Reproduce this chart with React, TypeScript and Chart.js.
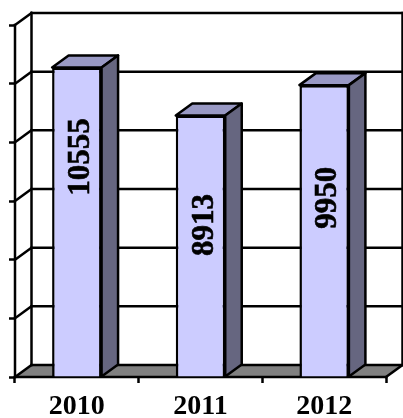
import React, { useEffect, useRef } from "react";
import { Chart, registerables } from "chart.js";

Chart.register(...registerables);

const categories = ["2010", "2011", "2012"];
const values = [10555, 8913, 9950];
const labelShift = [-65, -21, -33];
const AXIS_MAX = 12000;
const AXIS_STEP = 2000;
const DX = 16.5;
const DY = -12;
const FONT = '"Liberation Serif", "Times New Roman", serif';
const LINE = 2.5;

const box3d = {
  id: "box3d",
  beforeDatasetsDraw(chart: any) {
    const { ctx, chartArea: a, scales } = chart;
    ctx.save();
    ctx.lineCap = "square";
    ctx.fillStyle = "#808080";
    ctx.beginPath();
    ctx.moveTo(a.left, a.bottom);
    ctx.lineTo(a.right, a.bottom);
    ctx.lineTo(a.right + DX, a.bottom + DY);
    ctx.lineTo(a.left + DX, a.bottom + DY);
    ctx.closePath();
    ctx.fill();
    ctx.strokeStyle = "#000";
    ctx.lineWidth = LINE;
    const seg = (x1: number, y1: number, x2: number, y2: number) => {
      ctx.beginPath();
      ctx.moveTo(x1, y1);
      ctx.lineTo(x2, y2);
      ctx.stroke();
    };
    scales.y.ticks.forEach((t: any) => {
      const y = scales.y.getPixelForValue(t.value);
      seg(a.left + DX, y + DY, a.right + DX, y + DY);
      seg(a.left, y, a.left + DX, y + DY);
    });
    seg(a.left + DX, a.top + DY, a.left + DX, a.bottom + DY);
    seg(a.right + DX, a.top + DY, a.right + DX, a.bottom + DY);
    seg(a.left, a.top, a.left, a.bottom);
    seg(a.left, a.bottom, a.right, a.bottom);
    seg(a.right, a.bottom, a.right + DX, a.bottom + DY);
    const bars = chart.getDatasetMeta(0).data;
    bars.forEach((b: any) => {
      const half = b.width / 2;
      const l = b.x - half;
      const r = b.x + half;
      const face = (pts: number[][], fill: string) => {
        ctx.beginPath();
        pts.forEach((p, i) => (i ? ctx.lineTo(p[0], p[1]) : ctx.moveTo(p[0], p[1])));
        ctx.closePath();
        ctx.fillStyle = fill;
        ctx.fill();
        ctx.lineJoin = "round";
        ctx.stroke();
      };
      face([[l, b.y], [r, b.y], [r + DX, b.y + DY], [l + DX, b.y + DY]], "#9999C4");
      face([[r, b.y], [r + DX, b.y + DY], [r + DX, b.base + DY], [r, b.base]], "#666680");
    });
    ctx.restore();
  },
  afterDatasetsDraw(chart: any) {
    const { ctx } = chart;
    const bars = chart.getDatasetMeta(0).data;
    ctx.save();
    ctx.fillStyle = "#000";
    ctx.strokeStyle = "#000";
    ctx.lineWidth = 0.6;
    ctx.font = `bold 31px ${FONT}`;
    ctx.textAlign = "center";
    ctx.textBaseline = "middle";
    bars.forEach((b: any, i: number) => {
      ctx.save();
      ctx.translate(b.x + 4, (b.y + b.base) / 2 + labelShift[i]);
      ctx.rotate(-Math.PI / 2);
      ctx.fillText(String(values[i]), 0, 0);
      ctx.strokeText(String(values[i]), 0, 0);
      ctx.restore();
    });
    ctx.restore();
  },
};

export default function App() {
  const ref = useRef<HTMLCanvasElement>(null);
  useEffect(() => {
    const chart = new Chart(ref.current!, {
      type: "bar",
      data: {
        labels: categories,
        datasets: [
          {
            data: values,
            backgroundColor: "#CCCCFF",
            borderColor: "#000",
            borderWidth: 2.5,
            barPercentage: 0.4,
            categoryPercentage: 1,
          },
        ],
      },
      options: {
        animation: false,
        responsive: false,
        layout: { padding: { left: 9, right: 17, top: 25, bottom: 0 } },
        plugins: { legend: { display: false }, tooltip: { enabled: false } },
        scales: {
          x: {
            grid: {
              offset: true,
              drawOnChartArea: false,
              tickLength: 6,
              tickColor: "#000",
              tickWidth: 2.5,
            },
            border: { display: false },
            ticks: {
              color: "#000",
              font: { family: FONT, size: 28, weight: "bold" },
              padding: 7,
              maxRotation: 0,
            },
            afterFit(scale: any) {
              scale.height = 41;
            },
          },
          y: {
            min: 0,
            max: AXIS_MAX,
            grid: {
              drawOnChartArea: false,
              tickLength: 6,
              tickColor: "#000",
              tickWidth: 2.5,
            },
            border: { display: false },
            ticks: { display: false, stepSize: AXIS_STEP },
            afterFit(scale: any) {
              scale.width = 6;
            },
          },
        },
      },
      plugins: [box3d],
    } as any);
    return () => chart.destroy();
  }, []);
  return (
    <canvas
      ref={ref}
      width={403}
      height={418}
      style={{ position: "absolute", left: 0, top: 0, display: "block" }}
    />
  );
}
